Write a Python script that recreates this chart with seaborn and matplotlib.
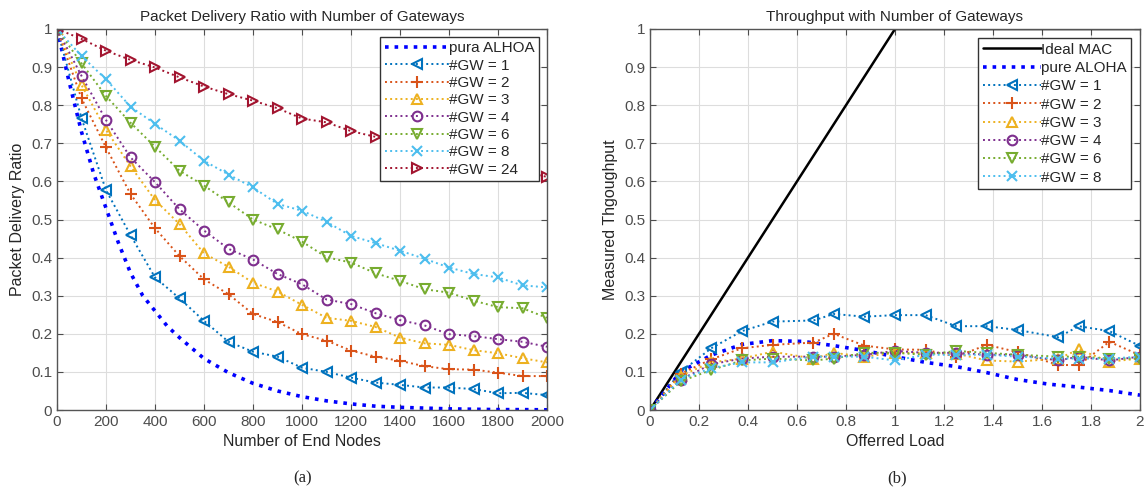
import numpy as np
import pandas as pd
import matplotlib
matplotlib.use("Agg")
import matplotlib.pyplot as plt
import seaborn as sns
from matplotlib.ticker import FuncFormatter

# ---------------- data: (a) Packet Delivery Ratio ----------------
nodes = [0, 100, 200, 300, 400, 500, 600, 700, 800, 900, 1000,
         1100, 1200, 1300, 1400, 1500, 1600, 1700, 1800, 1900, 2000]
aloha_nodes = [0, 50, 100, 150, 200, 250, 300, 350, 400, 450, 500, 600, 700, 800,
               900, 1000, 1100, 1200, 1300, 1400, 1500, 1600, 1700, 1800, 1900, 2000]
pdr_aloha = [1.0, 0.86, 0.73, 0.62, 0.53, 0.44, 0.36, 0.30, 0.26, 0.22, 0.19, 0.135,
             0.098, 0.07, 0.05, 0.035, 0.024, 0.016, 0.010, 0.007, 0.005, 0.003,
             0.002, 0.001, 0.001, 0.0005]
pdr_gw1 = [1.0, 0.766, 0.577, 0.459, 0.348, 0.293, 0.234, 0.179, 0.153, 0.140, 0.111,
           0.100, 0.085, 0.072, 0.066, 0.059, 0.059, 0.055, 0.044, 0.045, 0.039]
pdr_gw2 = [1.0, 0.818, 0.689, 0.567, 0.477, 0.404, 0.343, 0.304, 0.252, 0.231, 0.199,
           0.182, 0.156, 0.140, 0.129, 0.115, 0.107, 0.106, 0.098, 0.089, 0.089]
pdr_gw3 = [1.0, 0.853, 0.735, 0.640, 0.551, 0.488, 0.411, 0.376, 0.334, 0.311, 0.276,
           0.242, 0.234, 0.218, 0.190, 0.175, 0.171, 0.157, 0.149, 0.136, 0.125]
pdr_gw4 = [1.0, 0.877, 0.761, 0.663, 0.598, 0.527, 0.471, 0.423, 0.395, 0.357, 0.330,
           0.290, 0.278, 0.254, 0.236, 0.222, 0.199, 0.194, 0.186, 0.179, 0.166]
pdr_gw6 = [1.0, 0.910, 0.824, 0.754, 0.691, 0.628, 0.589, 0.545, 0.500, 0.474, 0.442,
           0.401, 0.387, 0.359, 0.339, 0.317, 0.308, 0.287, 0.270, 0.267, 0.242]
pdr_gw8 = [1.0, 0.929, 0.868, 0.796, 0.751, 0.707, 0.654, 0.618, 0.584, 0.541, 0.523,
           0.494, 0.457, 0.438, 0.418, 0.397, 0.374, 0.357, 0.348, 0.327, 0.322]
pdr_gw24 = [1.0, 0.974, 0.943, 0.919, 0.899, 0.873, 0.849, 0.829, 0.812, 0.792, 0.765,
            0.755, 0.732, 0.717, 0.698, 0.682, 0.667, 0.652, 0.637, 0.625, 0.612]

# ---------------- data: (b) Throughput ----------------
load = [0, 0.125, 0.25, 0.375, 0.5, 0.667, 0.75, 0.875, 1.0,
        1.125, 1.25, 1.375, 1.5, 1.667, 1.75, 1.875, 2.0]
ideal_load = [0, 1, 2]
thr_ideal = [0, 1, 1]
aloha_load = [0, 0.125, 0.25, 0.375, 0.5, 0.625, 0.75, 0.875, 1.0, 1.125, 1.25,
              1.375, 1.5, 1.625, 1.75, 1.875, 2.0]
thr_aloha = [0, 0.100, 0.144, 0.172, 0.182, 0.180, 0.169, 0.156, 0.140, 0.125, 0.114,
             0.098, 0.080, 0.068, 0.060, 0.051, 0.039]
thr_gw1 = [0, 0.100, 0.162, 0.207, 0.232, 0.235, 0.252, 0.245, 0.249, 0.249, 0.220,
           0.220, 0.210, 0.191, 0.220, 0.207, 0.168]
thr_gw2 = [0, 0.095, 0.133, 0.162, 0.171, 0.177, 0.200, 0.169, 0.159, 0.158, 0.140,
           0.171, 0.152, 0.118, 0.118, 0.179, 0.144]
thr_gw3 = [0, 0.090, 0.125, 0.135, 0.153, 0.135, 0.150, 0.140, 0.150, 0.150, 0.148,
           0.130, 0.127, 0.135, 0.159, 0.127, 0.135]
thr_gw4 = [0, 0.080, 0.120, 0.135, 0.140, 0.140, 0.140, 0.145, 0.155, 0.150, 0.150,
           0.145, 0.145, 0.130, 0.140, 0.130, 0.140]
thr_gw6 = [0, 0.075, 0.105, 0.130, 0.135, 0.130, 0.135, 0.150, 0.150, 0.145, 0.155,
           0.150, 0.145, 0.140, 0.140, 0.135, 0.135]
thr_gw8 = [0, 0.080, 0.110, 0.125, 0.125, 0.140, 0.140, 0.140, 0.130, 0.145, 0.145,
           0.145, 0.140, 0.135, 0.135, 0.135, 0.140]

# ---------------- style ----------------
sns.set_style("ticks")
plt.rcParams['font.family'] = ['Liberation Sans', 'DejaVu Sans']

C_GW1 = '#0072BD'
C_GW2 = '#D95319'
C_GW3 = '#EDB120'
C_GW4 = '#7E2F8E'
C_GW6 = '#77AC30'
C_GW8 = '#4DBEEE'
C_GW24 = '#A2142F'
C_ALOHA = '#0000FF'
TICK_C = '#4D4D4D'

fig = plt.figure(figsize=(11.45, 4.93), dpi=100)
axL = fig.add_axes([57/1145, 83/493, 490/1145, 381/493])
axR = fig.add_axes([650/1145, 83/493, 490/1145, 381/493])


def series(ax, x, y, color, marker, label, lw=1.4, ms=7):
    sns.lineplot(x=x, y=y, ax=ax, color=color, linestyle=':', linewidth=lw,
                 marker=marker, markersize=ms, markerfacecolor='none',
                 markeredgecolor=color, markeredgewidth=1.5, label=label,
                 sort=False, estimator=None)


# (a)
sns.lineplot(x=aloha_nodes, y=pdr_aloha, ax=axL, color=C_ALOHA, linestyle=':',
             linewidth=2.6, label='pura ALHOA', sort=False, estimator=None)
series(axL, nodes, pdr_gw1, C_GW1, '<', '#GW = 1')
series(axL, nodes, pdr_gw2, C_GW2, '+', '#GW = 2', ms=9)
series(axL, nodes, pdr_gw3, C_GW3, '^', '#GW = 3')
series(axL, nodes, pdr_gw4, C_GW4, 'o', '#GW = 4')
series(axL, nodes, pdr_gw6, C_GW6, 'v', '#GW = 6')
series(axL, nodes, pdr_gw8, C_GW8, 'x', '#GW = 8')
series(axL, nodes, pdr_gw24, C_GW24, '>', '#GW = 24')

axL.set_xlim(0, 2000)
axL.set_ylim(0, 1)
axL.set_xticks(np.arange(0, 2001, 200))
axL.set_yticks(np.arange(0, 1.01, 0.1))
axL.set_title('Packet Delivery Ratio with Number of Gateways', fontsize=11, color='#262626', pad=6)
axL.set_xlabel('Number of End Nodes', fontsize=11.5, color='#262626')
axL.set_ylabel('Packet Delivery Ratio', fontsize=11.5, color='#262626')

# (b)
sns.lineplot(x=ideal_load, y=thr_ideal, ax=axR, color='black', linestyle='-',
             linewidth=1.8, label='Ideal MAC', sort=False, estimator=None)
sns.lineplot(x=aloha_load, y=thr_aloha, ax=axR, color=C_ALOHA, linestyle=':',
             linewidth=2.6, label='pure ALOHA', sort=False, estimator=None)
series(axR, load, thr_gw1, C_GW1, '<', '#GW = 1')
series(axR, load, thr_gw2, C_GW2, '+', '#GW = 2', ms=9)
series(axR, load, thr_gw3, C_GW3, '^', '#GW = 3')
series(axR, load, thr_gw4, C_GW4, 'o', '#GW = 4')
series(axR, load, thr_gw6, C_GW6, 'v', '#GW = 6')
series(axR, load, thr_gw8, C_GW8, 'x', '#GW = 8')

axR.set_xlim(0, 2)
axR.set_ylim(0, 1)
axR.set_xticks(np.arange(0, 2.01, 0.2))
axR.set_yticks(np.arange(0, 1.01, 0.1))
axR.set_title('Throughput with Number of Gateways', fontsize=11, color='#262626', pad=6)
axR.set_xlabel('Offerred Load', fontsize=11.5, color='#262626')
axR.set_ylabel('Measured Thgoughput', fontsize=11.5, color='#262626')

fmt = FuncFormatter(lambda v, p: ('%g' % round(v, 3)))
for ax in (axL, axR):
    ax.xaxis.set_major_formatter(fmt)
    ax.yaxis.set_major_formatter(fmt)
    ax.grid(True, color='#DDDDDD', linewidth=0.8)
    ax.set_axisbelow(True)
    ax.tick_params(direction='in', top=True, right=True, labelsize=11,
                   colors=TICK_C, labelcolor=TICK_C, length=4, width=0.8)
    for s in ax.spines.values():
        s.set_color('#555555')
        s.set_linewidth(1.0)
        s.set_visible(True)
    ax.set_facecolor('white')

legL = axL.legend(loc='upper right', fontsize=11, frameon=True, fancybox=False,
                  framealpha=1, edgecolor='#333333', handlelength=4.2, handletextpad=0.0,
                  borderpad=0.3, labelspacing=0.22, borderaxespad=0.5)
legL.get_frame().set_linewidth(1.0)
legR = axR.legend(loc='upper right', fontsize=11, frameon=True, fancybox=False,
                  framealpha=1, edgecolor='#333333', handlelength=3.8, handletextpad=0.0,
                  borderpad=0.3, labelspacing=0.28, borderaxespad=0.6)
legR.get_frame().set_linewidth(1.0)

fig.text(303/1145, 1 - 478/493, '(a)', fontsize=12, family=['Liberation Serif', 'DejaVu Serif'],
         ha='center', va='center')
fig.text(897/1145, 1 - 478/493, '(b)', fontsize=12, family=['Liberation Serif', 'DejaVu Serif'],
         ha='center', va='center')

fig.savefig('out.png', dpi=100, facecolor='white')
